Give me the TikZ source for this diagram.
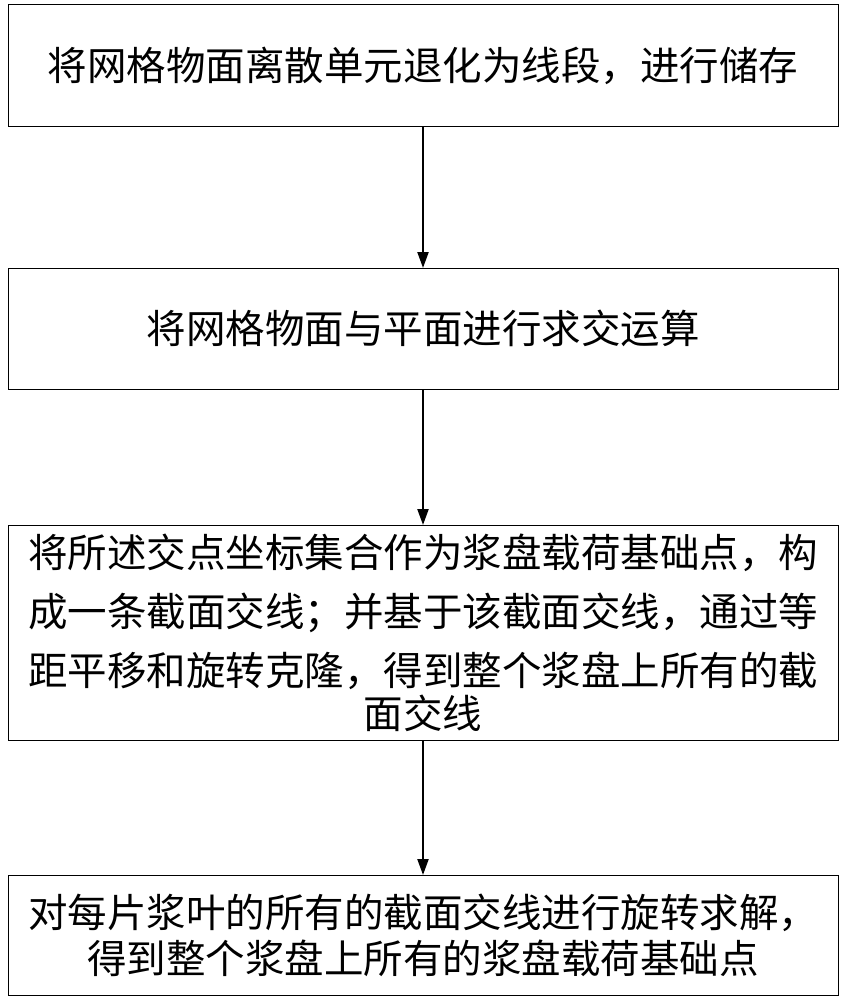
\documentclass[tikz,border=0pt]{standalone}
\usepackage{fontspec}
\setmainfont{Noto Sans CJK SC}
\usetikzlibrary{arrows.meta}
\begin{document}
\begin{tikzpicture}[x=1pt,y=-1pt,
  boxstyle/.style={draw,line width=1pt,inner sep=0pt},
  txt/.style={font=\fontsize{39.5}{59}\selectfont,align=center},
  arr/.style={-{Triangle[length=16pt,width=11pt]},line width=2.2pt}]
\useasboundingbox (0,0) rectangle (843,1000);
\draw[boxstyle] (8,5) rectangle (838,127);
\draw[boxstyle] (8,268) rectangle (838,389);
\draw[boxstyle] (8,525) rectangle (838,740);
\draw[boxstyle] (8,875) rectangle (838,995);
\coordinate (b1) at (423,127); \coordinate (t2) at (423,268);
\coordinate (b2) at (423,389); \coordinate (t3) at (423,525);
\coordinate (b3) at (423,740); \coordinate (t4) at (423,875);
\node[txt] (n1) at (423,66) {将网格物面离散单元退化为线段，进行储存};
\node[txt] (n2) at (423,328) {将网格物面与平面进行求交运算};
\node[txt] (n3) at (423,633) {将所述交点坐标集合作为浆盘载荷基础点，构\\成一条截面交线；并基于该截面交线，通过等\\距平移和旋转克隆，得到整个浆盘上所有的截\\[-16pt]面交线};
\node[txt,font=\fontsize{39.5}{46}\selectfont] (n4) at (423,935) {对每片浆叶的所有的截面交线进行旋转求解，\\得到整个浆盘上所有的浆盘载荷基础点};
\draw[arr] (b1) -- (t2);
\draw[arr] (b2) -- (t3);
\draw[arr] (b3) -- (t4);
\end{tikzpicture}
\end{document}
